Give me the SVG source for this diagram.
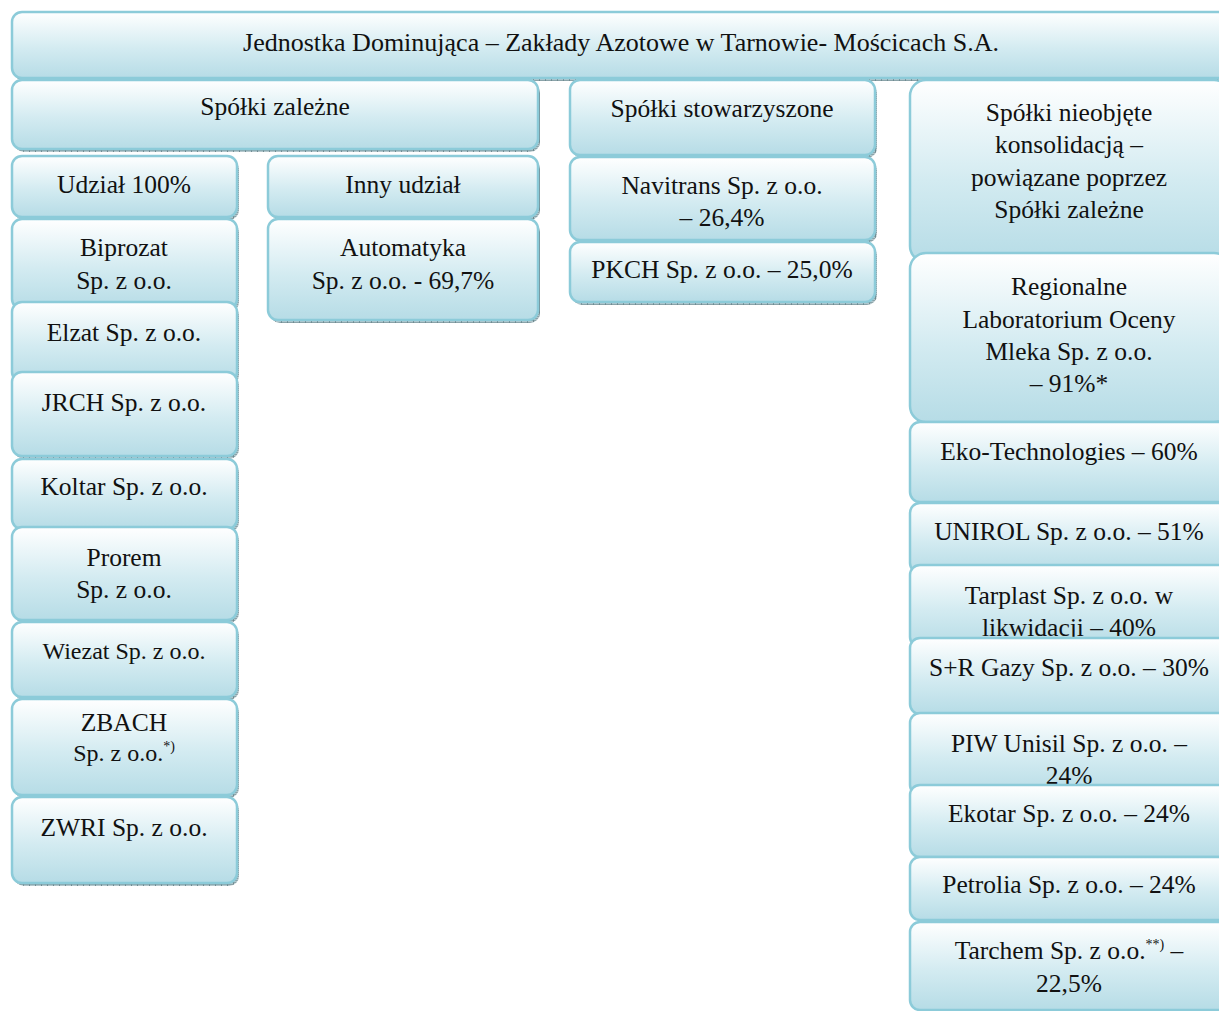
<svg xmlns="http://www.w3.org/2000/svg" width="1219" height="1011" viewBox="0 0 1219 1011">
<defs>
<linearGradient id="fillg" x1="0" y1="0" x2="0" y2="1">
<stop offset="0" stop-color="#ffffff"/>
<stop offset="0.55" stop-color="#d3ebf1"/>
<stop offset="1" stop-color="#b6dce6"/>
</linearGradient>
<pattern id="hatch" width="6" height="4" patternUnits="userSpaceOnUse">
<rect width="6" height="4" fill="#b3c6cb"/>
<path d="M0 0.5H6M0 2.5H6" stroke="#8aa3a9" stroke-width="1"/>
<path d="M5.5 0V4" stroke="#6f8a90" stroke-width="1"/>
</pattern>
</defs>
<style>
.sh{fill:url(#hatch);}
.bx{fill:url(#fillg);stroke:#8ccbd9;stroke-width:2.5;}
text{font-family:"Liberation Serif","DejaVu Serif",serif;font-size:25.5px;fill:#111;text-anchor:middle;}
.sm{font-size:24px;}
.sup{font-size:14px;}
</style>
<rect width="1219" height="1011" fill="#ffffff"/>
<g id="connectors"/>

<g id="n-main"><rect class="sh" x="14" y="15" width="1218" height="66" rx="10"/><rect class="bx" x="12" y="12" width="1218" height="66" rx="10"/><text x="621" y="51" style="font-size:26px">Jednostka Dominująca – Zakłady Azotowe w Tarnowie- Mościcach S.A.</text></g>

<g id="n-zalezne"><rect class="sh" x="14" y="83" width="526" height="69" rx="10"/><rect class="bx" x="12" y="80" width="526" height="69" rx="10"/><text x="275" y="115">Spółki zależne</text></g>

<g id="n-stow"><rect class="sh" x="572" y="83" width="305" height="75" rx="10"/><rect class="bx" x="570" y="80" width="305" height="75" rx="10"/><text x="722" y="117">Spółki stowarzyszone</text></g>

<g id="n-nieobj"><rect class="bx" x="910" y="80" width="320" height="182" rx="16"/><text x="1069" y="121">Spółki nieobjęte</text><text x="1069" y="153">konsolidacją –</text><text x="1069" y="186">powiązane poprzez</text><text x="1069" y="218">Spółki zależne</text></g>

<g id="n-udzial"><rect class="sh" x="14" y="159" width="225" height="61" rx="10"/><rect class="bx" x="12" y="156" width="225" height="61" rx="10"/><text x="124" y="193">Udział 100%</text></g>

<g id="n-inny"><rect class="sh" x="270" y="159" width="270" height="61" rx="10"/><rect class="bx" x="268" y="156" width="270" height="61" rx="10"/><text x="403" y="193">Inny udział</text></g>

<g id="n-navitrans"><rect class="sh" x="572" y="160" width="305" height="83" rx="10"/><rect class="bx" x="570" y="157" width="305" height="83" rx="10"/><text x="722" y="194">Navitrans Sp. z o.o.</text><text x="722" y="226">– 26,4%</text></g>

<g id="n-biprozat"><rect class="sh" x="14" y="222" width="225" height="90" rx="10"/><rect class="bx" x="12" y="219" width="225" height="90" rx="10"/><text x="124" y="256">Biprozat</text><text x="124" y="289">Sp. z o.o.</text></g>

<g id="n-automatyka"><rect class="sh" x="270" y="222" width="270" height="101" rx="10"/><rect class="bx" x="268" y="219" width="270" height="101" rx="10"/><text x="403" y="256">Automatyka</text><text x="403" y="289">Sp. z o.o. - 69,7%</text></g>

<g id="n-pkch"><rect class="sh" x="572" y="245" width="305" height="60" rx="10"/><rect class="bx" x="570" y="242" width="305" height="60" rx="10"/><text x="722" y="278">PKCH Sp. z o.o. – 25,0%</text></g>

<g id="n-rlom"><rect class="sh" x="912" y="256" width="320" height="169" rx="16"/><rect class="bx" x="910" y="253" width="320" height="169" rx="16"/><text x="1069" y="295">Regionalne</text><text x="1069" y="328">Laboratorium Oceny</text><text x="1069" y="360">Mleka Sp. z o.o.</text><text x="1069" y="392">– 91%*</text></g>

<g id="n-elzat"><rect class="sh" x="14" y="305" width="225" height="80" rx="10"/><rect class="bx" x="12" y="302" width="225" height="80" rx="10"/><text x="124" y="341">Elzat Sp. z o.o.</text></g>

<g id="n-eko"><rect class="bx" x="910" y="422" width="320" height="80" rx="10"/><text x="1069" y="460">Eko-Technologies – 60%</text></g>

<g id="n-jrch"><rect class="sh" x="14" y="375" width="225" height="84" rx="10"/><rect class="bx" x="12" y="372" width="225" height="84" rx="10"/><text x="124" y="411">JRCH Sp. z o.o.</text></g>

<g id="n-koltar"><rect class="sh" x="14" y="462" width="225" height="70" rx="10"/><rect class="bx" x="12" y="459" width="225" height="70" rx="10"/><text x="124" y="495">Koltar Sp. z o.o.</text></g>

<g id="n-unirol"><rect class="bx" x="910" y="503" width="320" height="70" rx="10"/><text x="1069" y="540">UNIROL Sp. z o.o. – 51%</text></g>

<g id="n-prorem"><rect class="sh" x="14" y="530" width="225" height="93" rx="10"/><rect class="bx" x="12" y="527" width="225" height="93" rx="10"/><text x="124" y="566">Prorem</text><text x="124" y="598">Sp. z o.o.</text></g>

<g id="n-tarplast"><rect class="bx" x="910" y="565" width="320" height="82" rx="10"/><text x="1069" y="604">Tarplast Sp. z o.o. w</text><text x="1069" y="636">likwidacji – 40%</text></g>

<g id="n-wiezat"><rect class="sh" x="14" y="625" width="225" height="75" rx="10"/><rect class="bx" x="12" y="622" width="225" height="75" rx="10"/><text class="sm" x="124" y="659">Wiezat Sp. z o.o.</text></g>

<g id="n-sr"><rect class="bx" x="910" y="638" width="320" height="76" rx="10"/><text x="1069" y="676">S+R Gazy Sp. z o.o. – 30%</text></g>

<g id="n-zbach"><rect class="sh" x="14" y="702" width="225" height="96" rx="10"/><rect class="bx" x="12" y="699" width="225" height="96" rx="10"/><text x="124" y="731">ZBACH</text><text class="sm" x="124" y="761">Sp. z o.o.<tspan class="sup" dy="-10">*)</tspan></text></g>

<g id="n-piw"><rect class="bx" x="910" y="713" width="320" height="82" rx="10"/><text x="1069" y="752">PIW Unisil Sp. z o.o. –</text><text x="1069" y="784">24%</text></g>

<g id="n-zwri"><rect class="sh" x="14" y="800" width="225" height="86" rx="10"/><rect class="bx" x="12" y="797" width="225" height="86" rx="10"/><text x="124" y="836">ZWRI Sp. z o.o.</text></g>

<g id="n-ekotar"><rect class="bx" x="910" y="785" width="320" height="72" rx="10"/><text x="1069" y="822">Ekotar Sp. z o.o. – 24%</text></g>

<g id="n-petrolia"><rect class="bx" x="910" y="857" width="320" height="63" rx="10"/><text x="1069" y="893">Petrolia Sp. z o.o. – 24%</text></g>

<g id="n-tarchem"><rect class="bx" x="910" y="922" width="320" height="88" rx="10"/><text x="1069" y="959">Tarchem Sp. z o.o.<tspan class="sup" dy="-10">**)</tspan><tspan dy="10"> –</tspan></text><text x="1069" y="992">22,5%</text></g>
</svg>
